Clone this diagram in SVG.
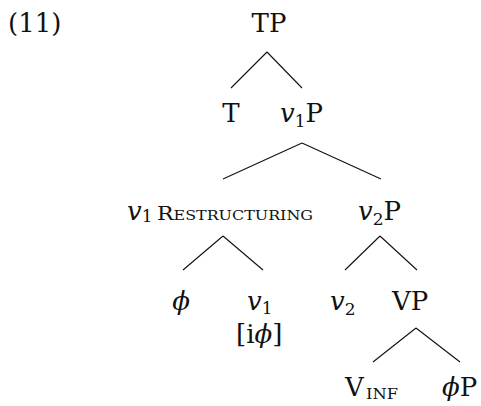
<svg xmlns="http://www.w3.org/2000/svg" width="481" height="406" viewBox="0 0 481 406">
<style>
text{font-family:"DejaVu Serif","Liberation Serif",serif;font-size:26px;fill:#111}
.i{font-style:italic}
.sub{font-size:17px}
.sc{font-size:18px;font-variant:small-caps}
.e{stroke:#111;stroke-width:1.1;fill:none}
</style>
<rect width="481" height="406" fill="#fff"/>
<text id="exnum" x="8" y="32">(11)</text>
<g id="edges">
<path class="e" d="M267 52L231 88M267 52L302 88"/>
<path class="e" d="M302 143L223 179M302 143L381 179"/>
<path class="e" d="M223 236L183 270M223 236L263 270"/>
<path class="e" d="M380 236L345 270M380 236L417 270"/>
<path class="e" d="M416 328L373 362M416 328L460 362"/>
</g>
<g id="TP"><text x="269" y="32" text-anchor="middle">TP</text></g>
<g id="T"><text x="231" y="122" text-anchor="middle">T</text></g>
<g id="v1P"><text x="280" y="122"><tspan class="i">v</tspan><tspan class="sub" dy="5">1</tspan><tspan dy="-5">P</tspan></text></g>
<g id="v1R"><text x="127" y="220"><tspan class="i">v</tspan><tspan class="sub" dy="2">1</tspan></text><text class="sc" x="157" y="220" textLength="156" lengthAdjust="spacingAndGlyphs">Restructuring</text></g>
<g id="v2P"><text x="358" y="220"><tspan class="i">v</tspan><tspan class="sub" dy="5">2</tspan><tspan dy="-5">P</tspan></text></g>
<g id="phi"><text x="181" y="310" text-anchor="middle" class="i">ϕ</text></g>
<g id="v1"><text x="247" y="310"><tspan class="i">v</tspan><tspan class="sub" dy="4">1</tspan></text><text x="236" y="343">[i<tspan class="i">ϕ</tspan>]</text></g>
<g id="v2"><text x="330" y="310"><tspan class="i">v</tspan><tspan class="sub" dy="5">2</tspan></text></g>
<g id="VP"><text x="392" y="310">VP</text></g>
<g id="Vinf"><text x="345" y="396">V</text><text class="sc" x="366" y="399" style="font-size:20px" textLength="32" lengthAdjust="spacingAndGlyphs">inf</text></g>
<g id="phiP"><text x="442" y="396"><tspan class="i">ϕ</tspan>P</text></g>
</svg>
